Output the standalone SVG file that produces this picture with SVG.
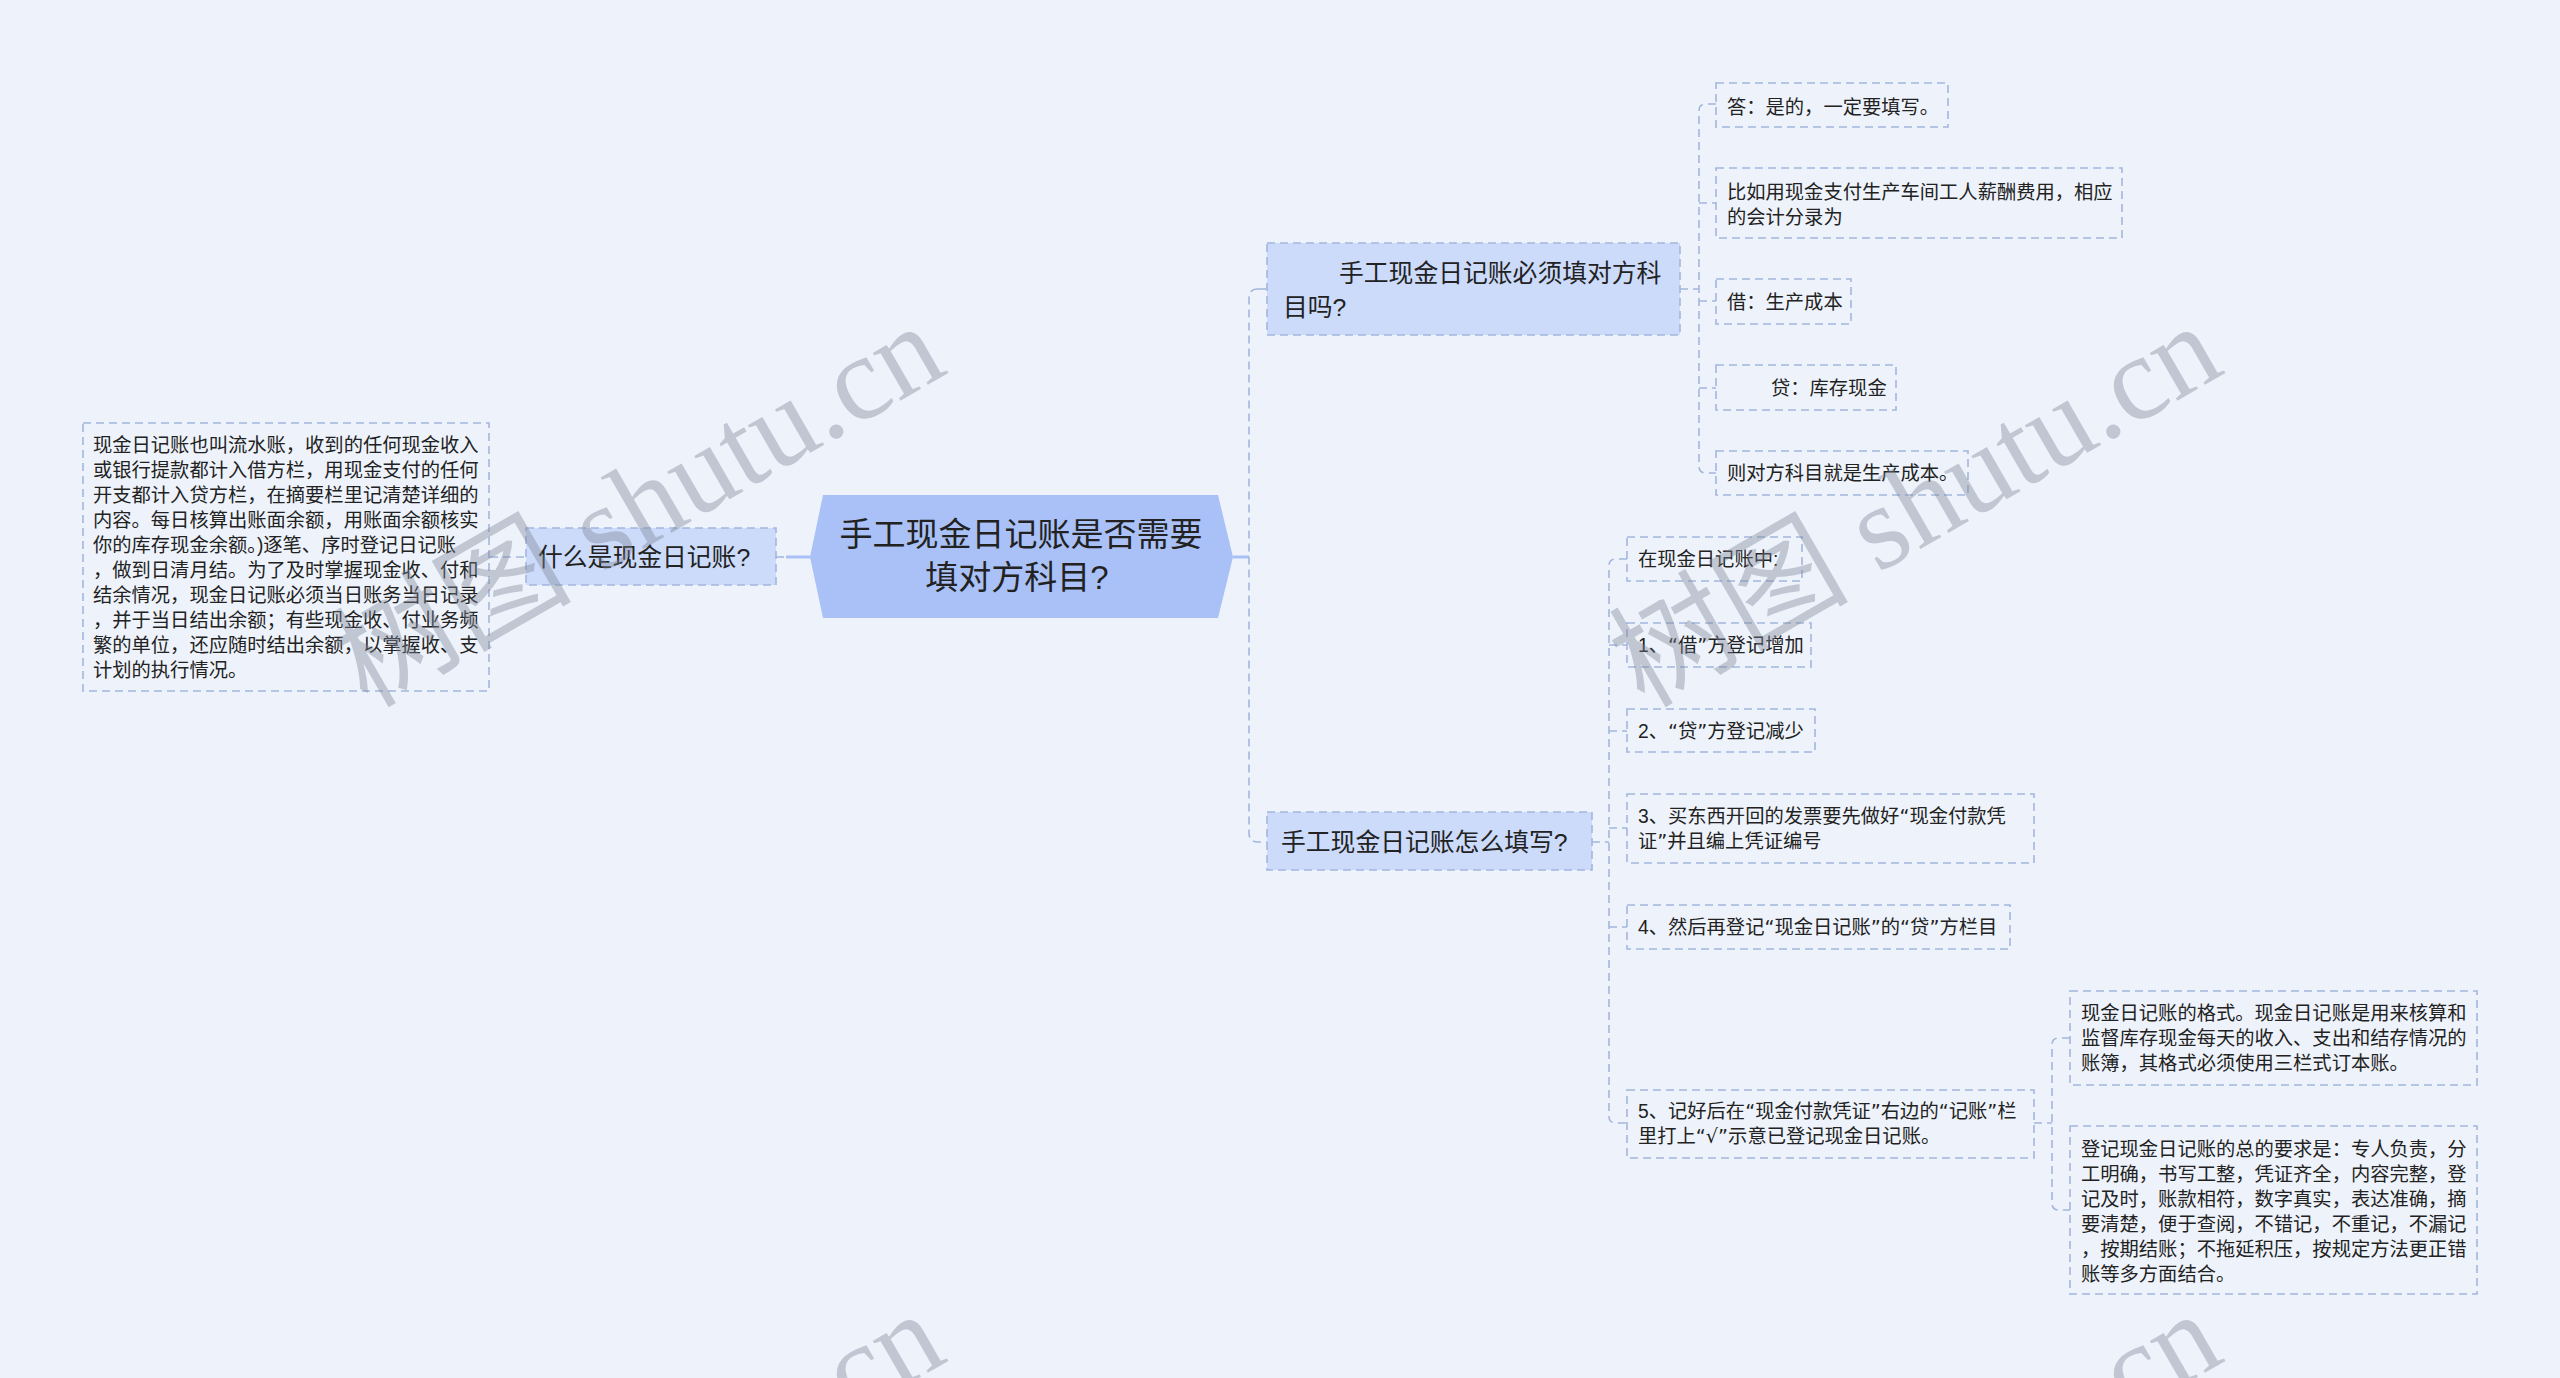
<svg xmlns="http://www.w3.org/2000/svg" width="2560" height="1378" viewBox="0 0 2560 1378">
<defs>
<style>
.t{font-family:"Liberation Sans","Noto Sans CJK SC",sans-serif;fill:#222;}
.q{font-family:"DejaVu Sans","Liberation Sans",sans-serif;}
.s{font-size:19.3px;}
.m{font-size:24.8px;}
.c{font-size:33px;}
.box{fill:none;stroke:#a3b6de;stroke-width:1.6;stroke-dasharray:8 5;}
.fbox{fill:#ccdbfa;stroke:#a3b6de;stroke-width:1.6;stroke-dasharray:8 5;}
.ln{fill:none;stroke:#a3b6de;stroke-width:1.6;stroke-dasharray:8 5;}
.sl{fill:none;stroke:#a9c1f7;stroke-width:3;}
.wm{font-family:"Liberation Serif","Noto Sans CJK SC",serif;font-size:120px;fill:#7d8595;fill-opacity:0.4;}
</style>
</defs>
<rect x="0" y="0" width="2560" height="1378" fill="#eef3fb"/>

<g id="connectors">
<line class="sl" x1="786" y1="557" x2="810" y2="557"/>
<line class="ln" x1="776" y1="557" x2="786" y2="557"/>
<line class="ln" x1="490" y1="557" x2="526" y2="557"/>
<line class="sl" x1="1233" y1="557" x2="1249" y2="557"/>
<path class="ln" d="M1258,289 Q1249,289 1249,298 V833 Q1249,842 1258,842 H1267"/>
<line class="ln" x1="1258" y1="289" x2="1267" y2="289"/>
<line class="ln" x1="1680" y1="289" x2="1699" y2="289"/>
<path class="ln" d="M1716,104 H1706 Q1699,104 1699,111 V466 Q1699,473 1706,473 H1716"/>
<line class="ln" x1="1699" y1="203" x2="1716" y2="203"/>
<line class="ln" x1="1699" y1="301" x2="1716" y2="301"/>
<line class="ln" x1="1699" y1="388" x2="1716" y2="388"/>
<line class="ln" x1="1592" y1="842" x2="1609" y2="842"/>
<path class="ln" d="M1627,559 H1616 Q1609,559 1609,566 V1116 Q1609,1123 1616,1123 H1627"/>
<line class="ln" x1="1609" y1="645" x2="1627" y2="645"/>
<line class="ln" x1="1609" y1="731" x2="1627" y2="731"/>
<line class="ln" x1="1609" y1="828" x2="1627" y2="828"/>
<line class="ln" x1="1609" y1="927" x2="1627" y2="927"/>
<line class="ln" x1="2034" y1="1123" x2="2052" y2="1123"/>
<path class="ln" d="M2070,1038 H2059 Q2052,1038 2052,1045 V1203 Q2052,1210 2059,1210 H2070"/>
</g>

<g id="root">
<path d="M810,557 L823,495 L1218,495 L1233,557 L1218,618 L823,618 Z" fill="#a9c1f7"/>
<text class="t c" x="1021" y="546" text-anchor="middle">手工现金日记账是否需要</text>
<text class="t c" x="1017" y="589" text-anchor="middle">填对方科目?</text>
</g>

<g id="n-what">
<rect class="fbox" x="526" y="528" width="250" height="57"/>
<text class="t m" x="538" y="565.5">什么是现金日记账?</text>
</g>

<g id="n-what-desc">
<rect class="box" x="83" y="423" width="406" height="268"/>
<text class="t s" x="93" y="451.6">现金日记账也叫流水账，收到的任何现金收入</text>
<text class="t s" x="93" y="476.6">或银行提款都计入借方栏，用现金支付的任何</text>
<text class="t s" x="93" y="501.6">开支都计入贷方栏，在摘要栏里记清楚详细的</text>
<text class="t s" x="93" y="526.6">内容。每日核算出账面余额，用账面余额核实</text>
<text class="t s" x="93" y="551.6">你的库存现金余额。)逐笔、序时登记日记账</text>
<text class="t s" x="93" y="576.6">，做到日清月结。为了及时掌握现金收、付和</text>
<text class="t s" x="93" y="601.6">结余情况，现金日记账必须当日账务当日记录</text>
<text class="t s" x="93" y="626.6">，并于当日结出余额；有些现金收、付业务频</text>
<text class="t s" x="93" y="651.6">繁的单位，还应随时结出余额，以掌握收、支</text>
<text class="t s" x="93" y="676.6">计划的执行情况。</text>
</g>

<g id="n-must">
<rect class="fbox" x="1267" y="243" width="413" height="92"/>
<text class="t m" x="1339" y="281.5">手工现金日记账必须填对方科</text>
<text class="t m" x="1283" y="315.5">目吗?</text>
</g>

<g id="n-ans">
<rect class="box" x="1716" y="83" width="232" height="44"/>
<text class="t s" x="1727" y="113.6">答：是的，一定要填写。</text>
</g>
<g id="n-eg">
<rect class="box" x="1716" y="168" width="406" height="70"/>
<text class="t s" x="1727" y="198.6">比如用现金支付生产车间工人薪酬费用，相应</text>
<text class="t s" x="1727" y="223.6">的会计分录为</text>
</g>
<g id="n-debit">
<rect class="box" x="1716" y="279" width="135" height="45"/>
<text class="t s" x="1727" y="308.6">借：生产成本</text>
</g>
<g id="n-credit">
<rect class="box" x="1716" y="365" width="180" height="45"/>
<text class="t s" x="1771" y="394.6">贷：库存现金</text>
</g>
<g id="n-then">
<rect class="box" x="1716" y="451" width="252" height="44"/>
<text class="t s" x="1727" y="479.6">则对方科目就是生产成本。</text>
</g>

<g id="n-how">
<rect class="fbox" x="1267" y="812" width="325" height="58"/>
<text class="t m" x="1281" y="850.5">手工现金日记账怎么填写?</text>
</g>

<g id="n-in">
<rect class="box" x="1627" y="537" width="175" height="44"/>
<text class="t s" x="1638" y="565.6">在现金日记账中:</text>
</g>
<g id="n-1">
<rect class="box" x="1627" y="623" width="184" height="44"/>
<text class="t s" x="1638" y="651.6">1、<tspan class="q">“</tspan>借<tspan class="q">”</tspan>方登记增加</text>
</g>
<g id="n-2">
<rect class="box" x="1627" y="709" width="188" height="43"/>
<text class="t s" x="1638" y="737.6">2、<tspan class="q">“</tspan>贷<tspan class="q">”</tspan>方登记减少</text>
</g>
<g id="n-3">
<rect class="box" x="1627" y="794" width="407" height="69"/>
<text class="t s" x="1638" y="823">3、买东西开回的发票要先做好<tspan class="q">“</tspan>现金付款凭</text>
<text class="t s" x="1638" y="848">证<tspan class="q">”</tspan>并且编上凭证编号</text>
</g>
<g id="n-4">
<rect class="box" x="1627" y="905" width="383" height="44"/>
<text class="t s" x="1638" y="933.6">4、然后再登记<tspan class="q">“</tspan>现金日记账<tspan class="q">”</tspan>的<tspan class="q">“</tspan>贷<tspan class="q">”</tspan>方栏目</text>
</g>
<g id="n-5">
<rect class="box" x="1627" y="1090" width="407" height="68"/>
<text class="t s" x="1638" y="1117.6">5、记好后在<tspan class="q">“</tspan>现金付款凭证<tspan class="q">”</tspan>右边的<tspan class="q">“</tspan>记账<tspan class="q">”</tspan>栏</text>
<text class="t s" x="1638" y="1142.6">里打上<tspan class="q">“√”</tspan>示意已登记现金日记账。</text>
</g>

<g id="n-format">
<rect class="box" x="2070" y="991" width="407" height="94"/>
<text class="t s" x="2081" y="1019.6">现金日记账的格式。现金日记账是用来核算和</text>
<text class="t s" x="2081" y="1044.6">监督库存现金每天的收入、支出和结存情况的</text>
<text class="t s" x="2081" y="1069.6">账簿，其格式必须使用三栏式订本账。</text>
</g>
<g id="n-req">
<rect class="box" x="2070" y="1126" width="407" height="168"/>
<text class="t s" x="2081" y="1155.6">登记现金日记账的总的要求是：专人负责，分</text>
<text class="t s" x="2081" y="1180.6">工明确，书写工整，凭证齐全，内容完整，登</text>
<text class="t s" x="2081" y="1205.6">记及时，账款相符，数字真实，表达准确，摘</text>
<text class="t s" x="2081" y="1230.6">要清楚，便于查阅，不错记，不重记，不漏记</text>
<text class="t s" x="2081" y="1255.6">，按期结账；不拖延积压，按规定方法更正错</text>
<text class="t s" x="2081" y="1280.6">账等多方面结合。</text>
</g>

<g id="watermarks">
<text class="wm" x="950" y="372" text-anchor="end" transform="rotate(-30 950 372)">树图 shutu.cn</text>
<text class="wm" x="2227" y="372" text-anchor="end" transform="rotate(-30 2227 372)">树图 shutu.cn</text>
<text class="wm" x="950" y="1360" text-anchor="end" transform="rotate(-30 950 1360)">树图 shutu.cn</text>
<text class="wm" x="2227" y="1360" text-anchor="end" transform="rotate(-30 2227 1360)">树图 shutu.cn</text>
</g>
</svg>
